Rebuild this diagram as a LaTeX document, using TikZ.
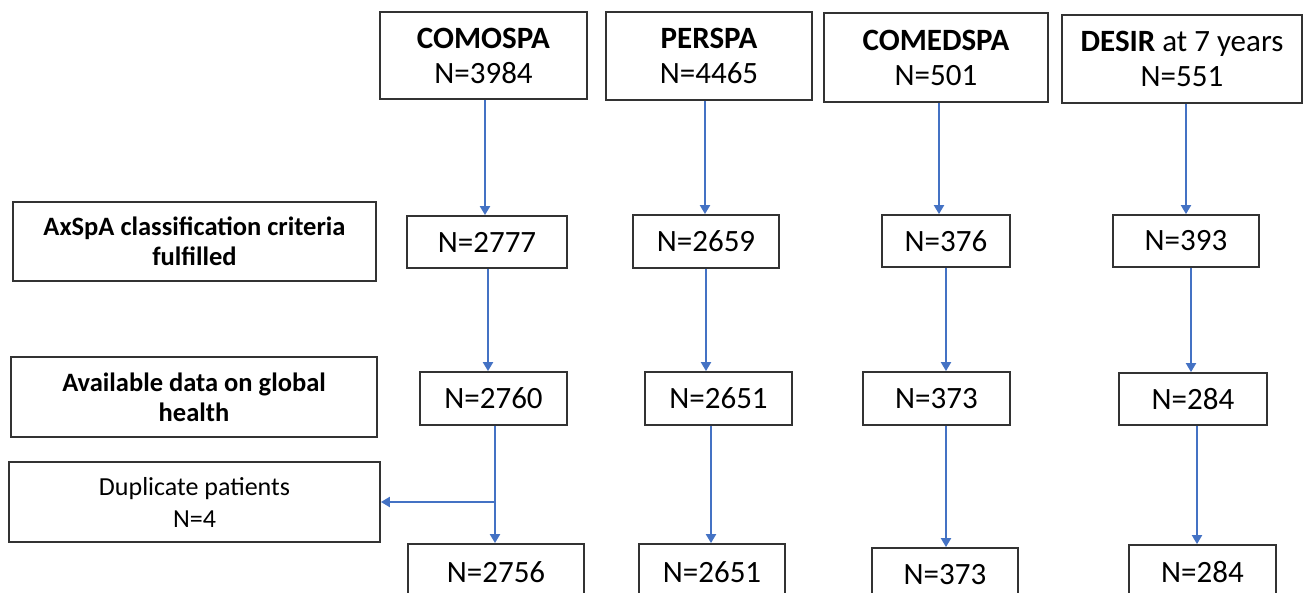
\documentclass[tikz,border=0pt]{standalone}
\usepackage{fontspec}
\setmainfont{Carlito}
\usetikzlibrary{arrows.meta}
\definecolor{arrblue}{HTML}{4472C4}
\definecolor{boxgray}{HTML}{333333}
\tikzset{
 box/.style={draw=boxgray, line width=1.8pt, inner sep=0pt, align=center, font=\fontsize{31}{35}\selectfont},
 lbl/.style={box, font=\bfseries\fontsize{26.5}{30}\selectfont},
 dup/.style={box, font=\fontsize{26}{32}\selectfont},
 arr/.style={draw=arrblue, line width=2pt, -{Triangle[width=10pt,length=9pt]}},
}
\begin{document}
\begin{tikzpicture}[x=1pt,y=-1pt]
\useasboundingbox[fill=white] (0,0) rectangle (1306,593);
% top row
\node[box, minimum width=207, minimum height=87] (t1) at (483.5,55.5) {\textbf{COMOSPA}\\N=3984};
\node[box, minimum width=206, minimum height=88] (t2) at (709,56) {\textbf{PERSPA}\\N=4465};
\node[box, minimum width=224, minimum height=89] (t3) at (936,57.5) {\textbf{COMEDSPA}\\N=501};
\node[box, minimum width=240, minimum height=88] (t4) at (1182,59) {\textbf{DESIR} at 7 years\\N=551};
% row 2
\node[lbl, minimum width=363, minimum height=79] (l1) at (194.5,241.5) {AxSpA classification criteria\\fulfilled};
\node[box, minimum width=160, minimum height=52] (a2) at (487,242) {N=2777};
\node[box, minimum width=146, minimum height=53] (b2) at (706,241.5) {N=2659};
\node[box, minimum width=128, minimum height=52] (c2) at (946,241) {N=376};
\node[box, minimum width=146, minimum height=52] (d2) at (1186,241) {N=393};
% row 3
\node[lbl, minimum width=366, minimum height=80] (l2) at (194,397) {Available data on global\\health};
\node[box, minimum width=147, minimum height=53] (a3) at (493.5,398.5) {N=2760};
\node[box, minimum width=147, minimum height=53] (b3) at (718.5,398.5) {N=2651};
\node[box, minimum width=147, minimum height=53] (c3) at (936.5,398.5) {N=373};
\node[box, minimum width=148, minimum height=52] (d3) at (1193,399) {N=284};
% duplicates
\node[dup, minimum width=371, minimum height=80] (dp) at (194.5,502) {Duplicate patients\\N=4};
% row 4
\node[box, minimum width=176, minimum height=56] (a4) at (496,572) {N=2756};
\node[box, minimum width=146, minimum height=56] (b4) at (712,572) {N=2651};
\node[box, minimum width=146, minimum height=54] (c4) at (945,575) {N=373};
\node[box, minimum width=147, minimum height=54] (d4) at (1202.5,572) {N=284};
% arrow x positions
\coordinate (x11) at (485,0);  \coordinate (x12) at (488,0);  \coordinate (x13) at (495,0);
\coordinate (x21) at (705,0);  \coordinate (x22) at (706,0);  \coordinate (x23) at (711,0);
\coordinate (x31) at (939,0);  \coordinate (x32) at (946,0);  \coordinate (x33) at (946,0);
\coordinate (x41) at (1186,0); \coordinate (x42) at (1191,0); \coordinate (x43) at (1197,0);
\draw[arr] (t1.south -| x11) -- (a2.north -| x11);
\draw[arr] (a2.south -| x12) -- (a3.north -| x12);
\draw[arr] (a3.south -| x13) -- (a4.north -| x13);
\draw[arr] (t2.south -| x21) -- (b2.north -| x21);
\draw[arr] (b2.south -| x22) -- (b3.north -| x22);
\draw[arr] (b3.south -| x23) -- (b4.north -| x23);
\draw[arr] (t3.south -| x31) -- (c2.north -| x31);
\draw[arr] (c2.south -| x32) -- (c3.north -| x32);
\draw[arr] (c3.south -| x33) -- (c4.north -| x33);
\draw[arr] (t4.south -| x41) -- (d2.north -| x41);
\draw[arr] (d2.south -| x42) -- (d3.north -| x42);
\draw[arr] (d3.south -| x43) -- (d4.north -| x43);
% branch to duplicates
\coordinate (j) at (495,502);
\draw[arr] (j) -- (dp.east |- j);
\end{tikzpicture}
\end{document}
